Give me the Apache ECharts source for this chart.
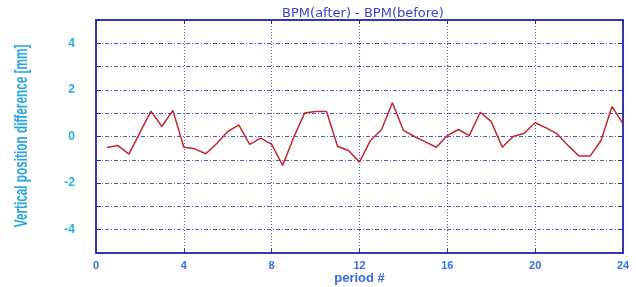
<!DOCTYPE html>
<html>
<head>
<meta charset="utf-8">
<script src="https://cdn.jsdelivr.net/npm/echarts@6/dist/echarts.min.js"></script>
<style>
  html, body { margin: 0; padding: 0; background: #fff; }
  #chart { width: 636px; height: 287px; }
</style>
</head>
<body>
<div id="chart"></div>
<script>
// period # (every half period)
const periods = [
  0.5, 1, 1.5, 2, 2.5, 3, 3.5, 4, 4.5, 5, 5.5, 6, 6.5, 7, 7.5, 8,
  8.5, 9, 9.5, 10, 10.5, 11, 11.5, 12, 12.5, 13, 13.5, 14, 14.5, 15, 15.5, 16,
  16.5, 17, 17.5, 18, 18.5, 19, 19.5, 20, 20.5, 21, 21.5, 22, 22.5, 23, 23.5, 24
];
// BPM(after) - BPM(before), mm
const diff = [
  -0.47, -0.39, -0.76, 0.17, 1.09, 0.43, 1.12, -0.46, -0.53, -0.74, -0.30, 0.21, 0.50, -0.34, -0.07, -0.34,
  -1.24, -0.05, 1.01, 1.07, 1.07, -0.42, -0.60, -1.10, -0.17, 0.29, 1.45, 0.26, 0.00, -0.23, -0.46, 0.04,
  0.30, 0.04, 1.04, 0.64, -0.46, 0.00, 0.14, 0.59, 0.37, 0.11, -0.39, -0.84, -0.84, -0.17, 1.29, 0.54
];
const xTicks = [0, 4, 8, 12, 16, 20, 24];
const yLabels = [-4, -2, 0, 2, 4];

const frameColor = '#2a2aa8';
const gridColor = '#5656c8';

const myChart = echarts.init(document.getElementById('chart'));
myChart.setOption({
    animation: false,
    backgroundColor: '#ffffff',
    title: {
        text: 'BPM(after) - BPM(before)',
        left: 358,
        textAlign: 'center',
        top: 2,
        textStyle: {
            color: '#3a44c8',
            fontFamily: 'DejaVu Sans',
            fontSize: 13,
            fontWeight: 'normal',
        },
    },
    // y axis title, condensed like the original narrow bold face
    graphic: [{
        type: 'text',
        x: 22,
        y: 136,
        rotation: Math.PI / 2,
        scaleX: 0.62,
        style: {
            text: 'Vertical position difference [mm]',
            fill: '#2aa6e0',
            font: 'bold 19px "Liberation Sans", sans-serif',
            align: 'center',
            verticalAlign: 'middle',
        },
    }],
    grid: {
        left: 96,
        right: 13,
        top: 20,
        bottom: 34,
        outerBoundsMode: 'none',
        show: true,
        borderColor: frameColor,
        borderWidth: 1.5,
    },
    xAxis: [{
        type: 'value',
        min: 0,
        max: 24,
        interval: 4,
        name: 'period #',
        nameLocation: 'middle',
        nameGap: 19,
        nameMoveOverlap: false,
        nameTextStyle: {
            color: '#3a68e8',
            fontFamily: 'Liberation Sans',
            fontWeight: 'bold',
            fontSize: 13,
        },
        axisLine: { show: true, onZero: false, lineStyle: { color: frameColor, width: 1.5 } },
        axisTick: { show: true, inside: true, length: 4, lineStyle: { color: frameColor } },
        axisLabel: {
            color: '#3a70e0',
            fontFamily: 'Liberation Sans',
            fontWeight: 'bold',
            fontSize: 11,
            margin: 7,
            customValues: xTicks,
        },
        splitLine: { show: true, lineStyle: { color: gridColor, type: [1, 2], width: 1 } },
    }, {
        type: 'value',
        position: 'top',
        min: 0,
        max: 24,
        interval: 4,
        axisLine: { show: true, onZero: false, lineStyle: { color: frameColor, width: 1.5 } },
        axisTick: { show: true, inside: true, length: 4, lineStyle: { color: frameColor } },
        axisLabel: { show: false },
        splitLine: { show: false },
    }],
    yAxis: [{
        type: 'value',
        min: -5,
        max: 5,
        interval: 1,
        axisLine: { show: true, onZero: false, lineStyle: { color: frameColor, width: 1.5 } },
        axisTick: { show: true, inside: true, length: 5, lineStyle: { color: frameColor } },
        axisLabel: {
            color: '#2eaae0',
            fontFamily: 'Liberation Sans',
            fontWeight: 'bold',
            fontSize: 12,
            margin: 21,
            formatter: (v) => yLabels.includes(v) ? String(v) : '',
        },
        splitLine: { show: true, lineStyle: { color: gridColor, type: [4, 2, 1, 2], width: 1 } },
    }, {
        type: 'value',
        position: 'right',
        min: -5,
        max: 5,
        interval: 1,
        axisLine: { show: true, onZero: false, lineStyle: { color: frameColor, width: 1.5 } },
        axisTick: { show: true, inside: true, length: 5, lineStyle: { color: frameColor } },
        axisLabel: { show: false },
        splitLine: { show: false },
    }],
    series: [{
        type: 'line',
        data: periods.map((p, i) => [p, diff[i]]),
        showSymbol: false,
        symbol: 'none',
        lineStyle: { color: '#c0282c', width: 1.5 },
        z: 5,
    }],
});
</script>
</body>
</html>
